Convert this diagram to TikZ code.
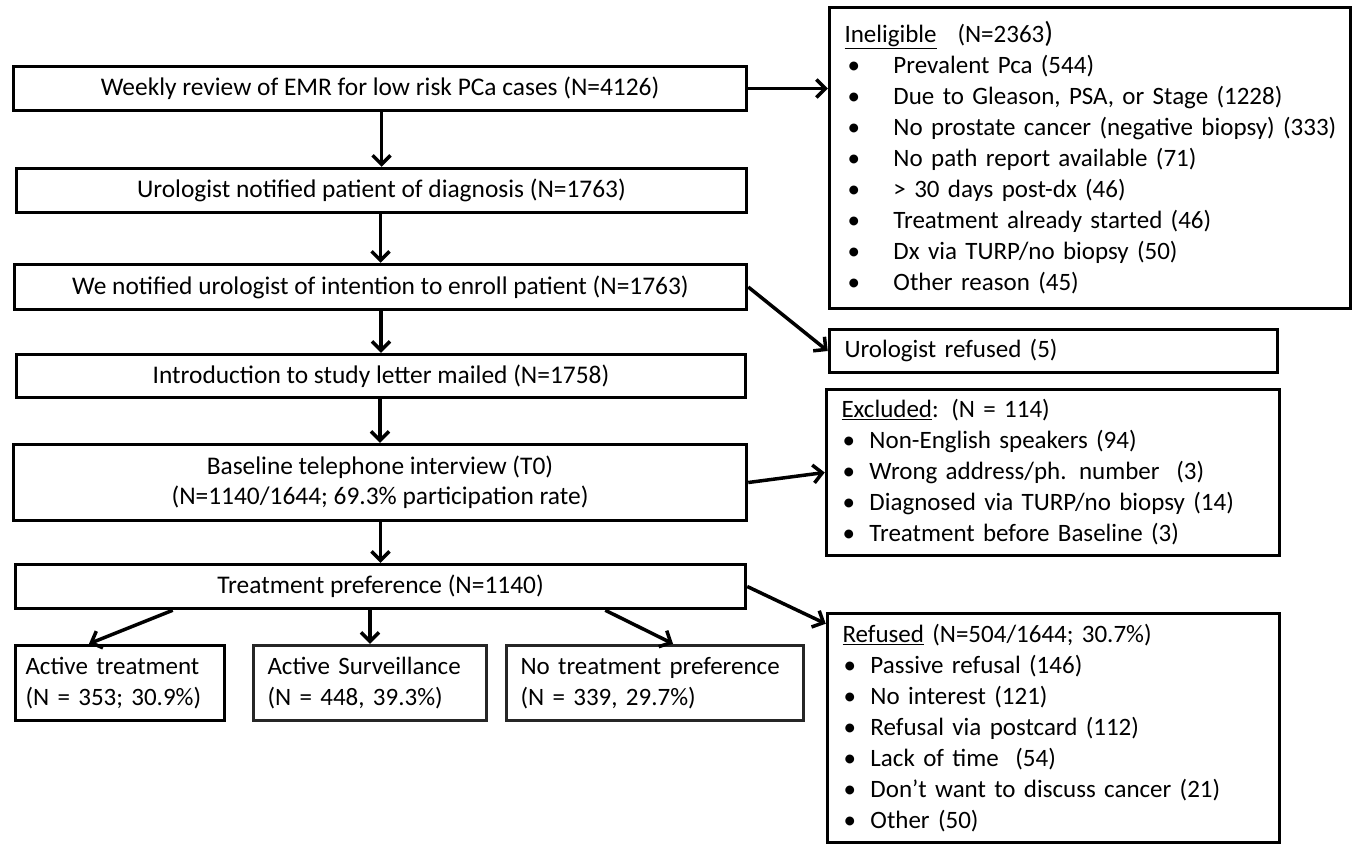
\documentclass[tikz,border=0pt]{standalone}
\usepackage{fontspec}
\setmainfont{Carlito}
\usetikzlibrary{arrows.meta}
\newcommand\blA[1]{\makebox[49pt][l]{\hspace{3pt}\textbullet}\mbox{#1}}
\newcommand\blB[1]{\makebox[28pt][l]{\hspace{1pt}\textbullet}\mbox{#1}}
\begin{document}
\begin{tikzpicture}[x=1pt,y=-1pt,
  every node/.style={font=\fontsize{25}{30.5}\selectfont},
  box/.style={draw,line width=3.5pt,inner sep=0pt,align=center,font=\fontsize{25.4}{30.5}\selectfont},
  lbox/.style={draw,line width=3.5pt,inner ysep=0pt,align=left},
  list/.style={lbox,font=\fontsize{25}{31}\selectfont},
  arr/.style={line width=3.5pt,-{Straight Barb[length=9pt,width=18pt]}}]
\useasboundingbox (0,0) rectangle (1355,846);
% main column
\node[box,minimum width=733,minimum height=44] (wk) at (380,88.5) {Weekly review of EMR for low risk PCa cases (N=4126)};
\node[box,minimum width=730,minimum height=44] (uro) at (381.5,190.5) {Urologist notified patient of diagnosis (N=1763)};
\node[box,minimum width=732,minimum height=45] (we) at (380.5,287) {We notified urologist of intention to enroll patient (N=1763)};
\node[box,minimum width=729,minimum height=43] (intro) at (381,376) {Introduction to study letter mailed (N=1758)};
\node[box,minimum width=733,minimum height=76] (base) at (380,482.5) {Baseline telephone interview (T0)\\(N=1140/1644; 69.3\% participation rate)};
\node[box,minimum width=730,minimum height=44] (tp) at (380.5,586.5) {Treatment preference (N=1140)};
% bottom row
\node[lbox,text width=189,inner xsep=10,minimum height=75] (at) at (120,683) {Active treatment\\(N = 353; 30.9\%)};
\node[lbox,draw=black!85,text width=205,inner xsep=14,minimum height=75] (as) at (370,683) {Active Surveillance\\(N = 448, 39.3\%)};
\node[lbox,draw=black!85,text width=269,inner xsep=14,minimum height=75] (nt) at (655,683) {No treatment preference\\(N = 339, 29.7\%)};
% right column
\node[list,text width=491,inner xsep=15,minimum height=301] (inel) at (1090,158) {\underline{Ineligible}\enspace\ (N=2363{\fontsize{29}{31}\selectfont )}\\
\blA{Prevalent Pca (544)}\\
\blA{Due to Gleason, PSA, or Stage (1228)}\\
\blA{No prostate cancer (negative biopsy) (333)}\\
\blA{No path report available (71)}\\
\blA{> 30 days post-dx (46)}\\
\blA{Treatment already started (46)}\\
\blA{Dx via TURP/no biopsy (50)}\\
\blA{Other reason (45)}};
\node[lbox,text width=418,inner xsep=15,minimum height=43] (ur) at (1053.5,351) {Urologist refused (5)};
\node[list,text width=423,inner xsep=15,minimum height=166] (exc) at (1053,472.5) {\underline{Excluded}: (N = 114)\\
\blB{Non-English speakers (94)}\\
\blB{Wrong address/ph. number\ \ (3)}\\
\blB{Diagnosed via TURP/no biopsy (14)}\\
\blB{Treatment before Baseline (3)}};
\node[list,text width=422,inner xsep=15,minimum height=229] (ref) at (1053.5,728) {\underline{Refused} (N=504/1644; 30.7\%)\\
\blB{Passive refusal (146)}\\
\blB{No interest (121)}\\
\blB{Refusal via postcard (112)}\\
\blB{Lack of time\ \ (54)}\\
\blB{Don’t want to discuss cancer (21)}\\
\blB{Other (50)}};
% connectors
\draw[arr] (wk.south -| uro.north) -- (uro.north);
\draw[arr] (uro.south -| we.north) -- (we.north);
\draw[arr] (we.south -| intro.north) -- (intro.north);
\draw[arr] (intro.south -| base.north) -- (base.north);
\draw[arr] (base.south -| tp.north) -- (tp.north);
\draw[arr] (wk.east) -- (inel.west |- wk.east);
\draw[arr] (we.east) -- (ur.west);
\draw[arr] (base.east) -- (exc.west);
\draw[arr] (tp.east) -- ([yshift=-12pt]ref.north west);
\draw[arr] ([xshift=159pt]tp.south west) -- ([xshift=-31pt]at.north);
\draw[arr] (tp.south -| as.north) -- (as.north);
\draw[arr] ([xshift=-142pt]tp.south east) -- ([xshift=18pt]nt.north);
\end{tikzpicture}
\end{document}
